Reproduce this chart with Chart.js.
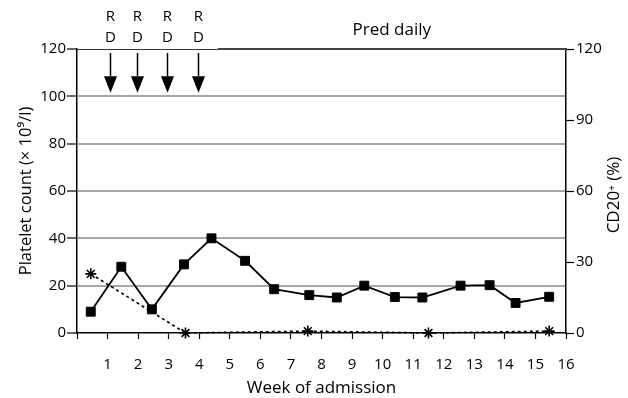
<!DOCTYPE html>
<html>
<head>
<meta charset="utf-8">
<script src="https://cdn.jsdelivr.net/npm/chart.js@4"></script>
<style>
  html, body { margin: 0; padding: 0; background: #fff; }
  #wrap { width: 628px; height: 398px; }
</style>
</head>
<body>
<div id="wrap"><canvas id="chartCanvas"></canvas></div>
<script>
// данные
const plateletWeeks = [0.45, 1.45, 2.45, 3.5, 4.4, 5.5, 6.45, 7.6, 8.5, 9.4, 10.4, 11.3, 12.55, 13.5, 14.35, 15.45];
const plateletCount = [9, 28, 10, 29, 40, 30.5, 18.5, 16, 15, 20, 15.2, 15, 20, 20.2, 12.7, 15.3];
const cd20Weeks = [0.45, 3.55, 7.55, 11.5, 15.45];
const cd20Percent = [25, 0, 0.8, 0, 0.8];

const rdWeeks = [1.08, 1.97, 2.95, 3.95]; // стрелки R/D
const predStart = 4.6;                    // начало "Pred daily"
const leftTicks = [0, 20, 40, 60, 80, 100, 120];
const rightTicks = [0, 30, 60, 90, 120];

const FONT = "'Open Sans', 'DejaVu Sans', sans-serif";

const toPoints = (xs, ys) => xs.map((x, i) => ({ x: x, y: ys[i] }));

// стрелки, подписи R/D, линия "Pred daily", правая подпись оси
const annotations = {
  id: 'annotations',
  afterDatasetsDraw(chart) {
    const ctx = chart.ctx;
    const xs = chart.scales.x;
    const ys = chart.scales.y;
    const area = chart.chartArea;
    ctx.save();

    // верхняя граница
    const xPred = xs.getPixelForValue(predStart);
    ctx.strokeStyle = '#333';
    ctx.lineWidth = 1;
    ctx.beginPath();
    ctx.moveTo(area.left, area.top + 0.5);
    ctx.lineTo(xPred, area.top + 0.5);
    ctx.stroke();
    ctx.strokeStyle = '#444';
    ctx.lineWidth = 2;
    ctx.beginPath();
    ctx.moveTo(xPred, area.top);
    ctx.lineTo(area.right + 1, area.top);
    ctx.stroke();

    ctx.fillStyle = '#000';
    ctx.strokeStyle = '#000';
    ctx.textAlign = 'center';
    ctx.textBaseline = 'middle';
    ctx.font = '17px ' + FONT;
    ctx.fillText('Pred daily', (xPred + area.right) / 2, area.top - 19);

    ctx.font = '15px ' + FONT;
    rdWeeks.forEach(function (w) {
      const x = Math.round(xs.getPixelForValue(w)) + 0.5;
      const yTop = ys.getPixelForValue(118.3);
      const yTip = ys.getPixelForValue(101.5);
      const yBase = ys.getPixelForValue(108.5);
      ctx.lineWidth = 1.5;
      ctx.beginPath();
      ctx.moveTo(x, yTop);
      ctx.lineTo(x, yBase);
      ctx.stroke();
      ctx.beginPath();
      ctx.moveTo(x - 6.5, yBase);
      ctx.lineTo(x + 6.5, yBase);
      ctx.lineTo(x, yTip);
      ctx.closePath();
      ctx.fill();
      ctx.fillText('R', x, area.top - 32);
      ctx.fillText('D', x, area.top - 11);
    });

    // подпись правой оси (читается снизу вверх)
    ctx.save();
    ctx.translate(614, (area.top + area.bottom) / 2 + 4);
    ctx.rotate(-Math.PI / 2);
    ctx.font = '17px ' + FONT;
    ctx.fillText('CD20\u207A (%)', 0, 0);
    ctx.restore();

    ctx.restore();
  },
};

const config = {
  type: 'scatter',
  data: {
    datasets: [
      {
        label: 'Platelet count',
        data: toPoints(plateletWeeks, plateletCount),
        showLine: true,
        yAxisID: 'y',
        borderColor: '#000',
        backgroundColor: '#000',
        borderWidth: 1.8,
        pointStyle: 'rect',
        pointRadius: 6.3,
        pointBorderWidth: 1,
        clip: false,
        order: 1,
      },
      {
        label: 'CD20+',
        data: toPoints(cd20Weeks, cd20Percent),
        showLine: true,
        yAxisID: 'y1',
        borderColor: '#000',
        backgroundColor: '#000',
        borderWidth: 1.6,
        borderDash: [3, 3],
        pointStyle: 'star',
        pointRadius: 5.5,
        pointBorderWidth: 1.6,
        clip: false,
        order: 2,
      },
    ],
  },
  options: {
    responsive: true,
    maintainAspectRatio: false,
    animation: false,
    layout: { padding: { top: 49, left: 0, right: 0, bottom: 0 } },
    plugins: {
      legend: { display: false },
      tooltip: { enabled: false },
    },
    scales: {
      x: {
        type: 'linear',
        min: 0,
        max: 16,
        afterFit: function (s) { s.height = 65; },
        ticks: {
          stepSize: 1,
          padding: 17,
          color: '#000',
          font: { family: FONT, size: 15 },
          maxRotation: 0,
          autoSkip: false,
          callback: function (v) { return v === 0 ? '' : v; },
        },
        grid: { drawOnChartArea: false, tickLength: 6, tickColor: '#000', tickWidth: 1.2 },
        border: { color: '#000', width: 1.5 },
        title: {
          display: true,
          text: 'Week of admission',
          color: '#000',
          font: { family: FONT, size: 17 },
          padding: { top: 0, bottom: 0 },
        },
      },
      y: {
        position: 'left',
        min: 0,
        max: 120,
        afterFit: function (s) { s.width = 77; },
        afterBuildTicks: function (s) { s.ticks = leftTicks.map(v => ({ value: v })); },
        ticks: { padding: 1, color: '#000', font: { family: FONT, size: 15 } },
        grid: {
          color: function (c) {
            const v = c.tick ? c.tick.value : null;
            return v === 0 || v === 120 ? 'rgba(0,0,0,0)' : '#a6a6a6';
          },
          lineWidth: 2,
          tickLength: 10,
          tickColor: '#000',
          tickWidth: 1.2,
        },
        border: { color: '#000', width: 1.5 },
        title: {
          display: true,
          text: 'Platelet count (\u00D7 10\u2079/l)',
          color: '#000',
          font: { family: FONT, size: 16.5 },
          padding: { top: 16, bottom: 0 },
        },
      },
      y1: {
        position: 'right',
        min: 0,
        max: 120,
        afterFit: function (s) { s.width = 62; },
        afterBuildTicks: function (s) { s.ticks = rightTicks.map(v => ({ value: v })); },
        ticks: { padding: 2, color: '#000', font: { family: FONT, size: 15 } },
        grid: { drawOnChartArea: false, tickLength: 8, tickColor: '#000', tickWidth: 1.2 },
        border: { color: '#000', width: 1.5 },
      },
    },
  },
  plugins: [annotations],
};

new Chart(document.getElementById('chartCanvas'), config);
</script>
</body>
</html>
